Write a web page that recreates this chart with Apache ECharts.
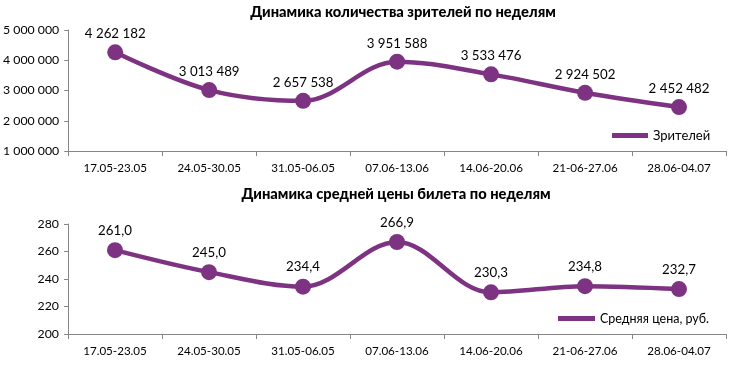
<!DOCTYPE html>
<html><head><meta charset="utf-8">
<script src="https://cdn.jsdelivr.net/npm/echarts@6/dist/echarts.min.js"></script>
<style>html,body{margin:0;padding:0;background:#fff}#c{width:733px;height:366px}</style>
</head><body><div id="c"></div>
<script>
const categories = ["17.05-23.05","24.05-30.05","31.05-06.05","07.06-13.06","14.06-20.06","21-06-27.06","28.06-04.07"];
const viewers = [4262182, 3013489, 2657538, 3951588, 3533476, 2924502, 2452482];
const avgPrice = [261.0, 245.0, 234.4, 266.9, 230.3, 234.8, 232.7];
const title1 = "Динамика количества зрителей по неделям";
const title2 = "Динамика средней цены билета по неделям";
const name1 = "Зрителей";
const name2 = "Средняя цена, руб.";

const color = "#7E3382";
const font = "Lato";
function fmtInt(v){ return String(Math.round(v)).replace(/\B(?=(\d{3})+(?!\d))/g, " "); }
function fmtDec(v){ return v.toFixed(1).replace(".", ","); }

const axisLine = {lineStyle:{color:"#868686", width:1}};
const chart = echarts.init(document.getElementById('c'));
chart.setOption({
  animation:false,
  textStyle:{fontFamily:font},
  title:[
    {text:title1, left:398, top:0, textAlign:'center', textStyle:{fontFamily:font, fontSize:14.7, fontWeight:900, color:'#000'}},
    {text:title2, left:391, top:182, textAlign:'center', textStyle:{fontFamily:font, fontSize:14.7, fontWeight:900, color:'#000'}}
  ],
  legend:[
    {data:[name1], left:607, top:124, itemWidth:36, itemHeight:5, itemGap:4, icon:'rect',
     textStyle:{fontFamily:font, fontSize:13, color:'#000'}},
    {data:[name2], left:553, top:307, itemWidth:37, itemHeight:5, itemGap:4, icon:'rect',
     textStyle:{fontFamily:font, fontSize:12.5, color:'#000'}}
  ],
  grid:[
    {left:68, top:30, width:658, height:121},
    {left:68, top:224, width:658, height:110}
  ],
  xAxis:[0,1].map(i=>({
    type:'category', gridIndex:i, data:categories, boundaryGap:true,
    axisLine:axisLine, axisTick:{show:true, length:5, lineStyle:{color:'#868686'}},
    axisLabel:{fontFamily:font, fontSize:11.6, color:'#000', margin:11}
  })),
  yAxis:[
    {type:'value', gridIndex:0, min:1000000, max:5000000, interval:1000000,
     axisLine:{show:true, lineStyle:{color:'#868686'}}, axisTick:{show:true, length:4, lineStyle:{color:'#868686'}},
     splitLine:{show:false},
     axisLabel:{fontFamily:font, fontSize:12.3, color:'#000', margin:9, formatter:v=>fmtInt(v)}},
    {type:'value', gridIndex:1, min:200, max:280, interval:20,
     axisLine:{show:true, lineStyle:{color:'#868686'}}, axisTick:{show:true, length:4, lineStyle:{color:'#868686'}},
     splitLine:{show:false},
     axisLabel:{fontFamily:font, fontSize:12.3, color:'#000', margin:9, formatter:v=>String(v)}}
  ],
  series:[
    {name:name1, type:'line', xAxisIndex:0, yAxisIndex:0, data:viewers, smooth:0.35,
     symbol:'circle', symbolSize:16, itemStyle:{color:color}, lineStyle:{color:color, width:4.5},
     label:{show:true, position:'top', distance:4, fontFamily:font, fontSize:13.3, color:'#000', formatter:p=>fmtInt(p.value)}},
    {name:name2, type:'line', xAxisIndex:1, yAxisIndex:1, data:avgPrice, smooth:0.35,
     symbol:'circle', symbolSize:16, itemStyle:{color:color}, lineStyle:{color:color, width:4.5},
     label:{show:true, position:'top', distance:5, fontFamily:font, fontSize:13.3, color:'#000', formatter:p=>fmtDec(p.value)}}
  ]
});
</script></body></html>
